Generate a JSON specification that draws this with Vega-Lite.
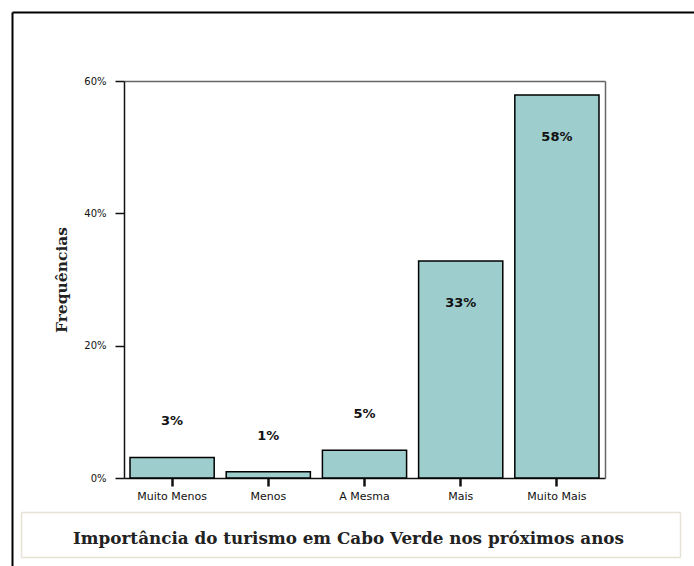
{
  "$schema": "https://vega.github.io/schema/vega-lite/v6.json",
  "autosize": "none",
  "padding": {"left": 12, "top": 12, "right": 0, "bottom": 0},
  "width": 682,
  "height": 554,
  "background": "white",
  "config": {
    "view": {"stroke": null},
    "axis": {"grid": false, "domainColor": "#111", "tickColor": "#111", "labelColor": "#111"}
  },
  "data": {
    "values": [
      {"categoria": "Muito Menos", "freq": 3.1, "rotulo": "3%"},
      {"categoria": "Menos", "freq": 0.95, "rotulo": "1%"},
      {"categoria": "A Mesma", "freq": 4.2, "rotulo": "5%"},
      {"categoria": "Mais", "freq": 32.8, "rotulo": "33%"},
      {"categoria": "Muito Mais", "freq": 57.9, "rotulo": "58%"}
    ]
  },
  "resolve": {"scale": {"x": "independent", "y": "independent"}},
  "layer": [
    {
      "layer": [
        {
          "mark": {"type": "bar", "fill": "#9dcdcd", "stroke": "#000", "strokeWidth": 1.5},
          "encoding": {
            "x": {
              "field": "categoria", "type": "nominal", "sort": null,
              "scale": {"range": [112, 593], "paddingInner": 0.125, "paddingOuter": 0.0625},
              "axis": {
                "orient": "bottom", "offset": -88, "labelAngle": 0,
                "labelFont": "DejaVu Sans", "labelFontSize": 11, "labelPadding": 4,
                "tickSize": 8, "tickWidth": 2.5, "domainWidth": 1.5,
                "title": "Importância do turismo em Cabo Verde nos próximos anos",
                "titleFont": "DejaVu Serif", "titleFontSize": 16.8, "titleFontWeight": "bold",
                "titleColor": "#222", "titleX": 336, "titleY": 65,
                "titleBaseline": "alphabetic", "titleAlign": "center", "titleAnchor": null
              }
            },
            "y": {
              "field": "freq", "type": "quantitative",
              "scale": {"domain": [0, 60], "range": [466, 69], "nice": false, "zero": true},
              "axis": {
                "orient": "left", "offset": -112, "values": [0, 20, 40, 60],
                "labelExpr": "datum.value + '%'",
                "labelFont": "DejaVu Sans", "labelFontSize": 10, "labelPadding": 9,
                "tickSize": 9, "tickWidth": 1.5, "domainWidth": 1.5,
                "title": "Frequências", "titleFont": "DejaVu Serif", "titleFontSize": 15.5,
                "titleFontWeight": "bold", "titleColor": "#222", "titleX": -63,
                "titleAngle": -90, "titleBaseline": "middle", "titleAlign": "center"
              }
            }
          }
        },
        {
          "transform": [{"filter": "datum.freq < 10"}],
          "mark": {"type": "text", "font": "DejaVu Sans", "fontSize": 13, "fontWeight": "bold", "color": "#111", "dy": -36, "baseline": "middle"},
          "encoding": {
            "x": {"field": "categoria", "type": "nominal", "sort": null, "axis": null},
            "y": {"field": "freq", "type": "quantitative", "axis": null},
            "text": {"field": "rotulo"}
          }
        },
        {
          "transform": [{"filter": "datum.freq >= 10"}],
          "mark": {"type": "text", "font": "DejaVu Sans", "fontSize": 13, "fontWeight": "bold", "color": "#111", "dy": 42, "baseline": "middle"},
          "encoding": {
            "x": {"field": "categoria", "type": "nominal", "sort": null, "axis": null},
            "y": {"field": "freq", "type": "quantitative", "axis": null},
            "text": {"field": "rotulo"}
          }
        },
        {
          "mark": {"type": "bar", "opacity": 0},
          "encoding": {
            "x": {
              "field": "categoria", "type": "nominal", "sort": null,
              "axis": {"orient": "top", "offset": -69, "ticks": false, "labels": false, "title": null, "domainColor": "#666", "domainWidth": 1.5}
            },
            "y": {
              "field": "freq", "type": "quantitative",
              "axis": {"orient": "right", "offset": -89, "ticks": false, "labels": false, "title": null, "domainColor": "#666", "domainWidth": 1.5}
            }
          }
        }
      ]
    },
    {
      "mark": {"type": "bar", "opacity": 0},
      "encoding": {
        "x": {
          "field": "categoria", "type": "nominal", "sort": null,
          "axis": {"orient": "top", "offset": 0, "ticks": false, "labels": false, "title": null, "domainColor": "#000", "domainWidth": 2}
        },
        "y": {
          "field": "freq", "type": "quantitative",
          "axis": {"orient": "left", "offset": 0, "ticks": false, "labels": false, "title": null, "domainColor": "#000", "domainWidth": 2}
        }
      }
    },
    {
      "layer": [
        {
          "mark": {"type": "bar", "opacity": 0},
          "encoding": {
            "x": {
              "field": "categoria", "type": "nominal", "sort": null,
              "scale": {"range": [9, 668]},
              "axis": {"orient": "top", "offset": -500, "ticks": false, "labels": false, "title": null, "domainColor": "#e6e3d6", "domainWidth": 1.5}
            },
            "y": {
              "field": "freq", "type": "quantitative",
              "scale": {"range": [545, 500]},
              "axis": {"orient": "left", "offset": -9, "ticks": false, "labels": false, "title": null, "domainColor": "#e6e3d6", "domainWidth": 1.5}
            }
          }
        },
        {
          "mark": {"type": "bar", "opacity": 0},
          "encoding": {
            "x": {
              "field": "categoria", "type": "nominal", "sort": null,
              "axis": {"orient": "bottom", "offset": -9, "ticks": false, "labels": false, "title": null, "domainColor": "#e6e3d6", "domainWidth": 1.5}
            },
            "y": {
              "field": "freq", "type": "quantitative",
              "axis": {"orient": "right", "offset": -14, "ticks": false, "labels": false, "title": null, "domainColor": "#e6e3d6", "domainWidth": 1.5}
            }
          }
        }
      ]
    }
  ]
}
